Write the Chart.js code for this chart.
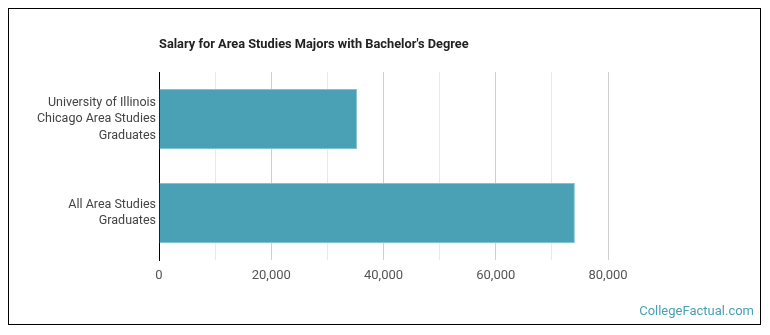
<!DOCTYPE html>
<html>
<head>
<meta charset="utf-8">
<script src="https://cdn.jsdelivr.net/npm/chart.js@4/dist/chart.umd.min.js"></script>
<style>
  body { margin: 0; background: #fff; }
  #frame { position: absolute; left: 8px; top: 8px; width: 751px; height: 315px; border: 1px solid #000; }
  #wrap { position: absolute; left: 0; top: 0; width: 770px; height: 335px; }
</style>
</head>
<body>
<div id="frame"></div>
<div id="wrap"><canvas id="salaryChart"></canvas></div>
<script>
// chart data
const categories = [
  ['University of Illinois', 'Chicago Area Studies', 'Graduates'],
  ['All Area Studies', 'Graduates']
];
const salaries = [35300, 74100];
const xTicks = [0, 20000, 40000, 60000, 80000];

const chartTitle = "Salary for Area Studies Majors with Bachelor's Degree";
const watermark = 'CollegeFactual.com';

// draws title and site name on the canvas
const extraText = {
  id: 'extraText',
  afterDraw(chart) {
    const c = chart.ctx;
    c.save();
    c.fillStyle = '#222';
    c.font = 'bold 12.8px Roboto';
    c.textBaseline = 'middle';
    c.textAlign = 'left';
    c.fillText(chartTitle, chart.chartArea.left, 45);
    c.fillStyle = '#4aa0b5';
    c.font = '13px Roboto';
    c.textAlign = 'right';
    c.fillText(watermark, 754, 312);
    c.restore();
  }
};

const ctx = document.getElementById('salaryChart').getContext('2d');

new Chart(ctx, {
  type: 'bar',
  data: {
    labels: categories,
    datasets: [{
      data: salaries,
      backgroundColor: '#4aa0b5',
      borderColor: '#80c3d2',
      borderWidth: 1,
      barPercentage: 0.8,
      categoryPercentage: 0.8
    }]
  },
  options: {
    indexAxis: 'y',
    responsive: true,
    maintainAspectRatio: false,
    animation: false,
    layout: { padding: { top: 72, right: 162, bottom: 48, left: 0 } },
    plugins: {
      legend: { display: false },
      tooltip: { enabled: false }
    },
    scales: {
      x: {
        min: 0,
        max: 80000,
        afterBuildTicks(scale) {
          scale.ticks = [];
          for (let v = 0; v <= 80000; v += 10000) scale.ticks.push({ value: v });
        },
        afterFit(scale) { scale.height = 27; },
        grid: {
          drawTicks: false,
          color(context) {
            const v = context.tick.value;
            if (v === 0) return '#000';
            return xTicks.includes(v) ? '#cfcfcf' : '#e8e8e8';
          }
        },
        border: { display: false },
        ticks: {
          padding: 8,
          color: '#555',
          font: { family: 'Roboto', size: 13 },
          callback(value) {
            return xTicks.includes(value) ? value.toLocaleString('en-US') : '';
          }
        }
      },
      y: {
        afterFit(scale) { scale.width = 159; },
        grid: { display: false, drawTicks: false },
        border: { color: '#000', width: 1 },
        ticks: {
          padding: 3,
          color: '#444',
          font: { family: 'Roboto', size: 12.5, lineHeight: 1.33 }
        }
      }
    }
  },
  plugins: [extraText]
});
</script>
</body>
</html>
